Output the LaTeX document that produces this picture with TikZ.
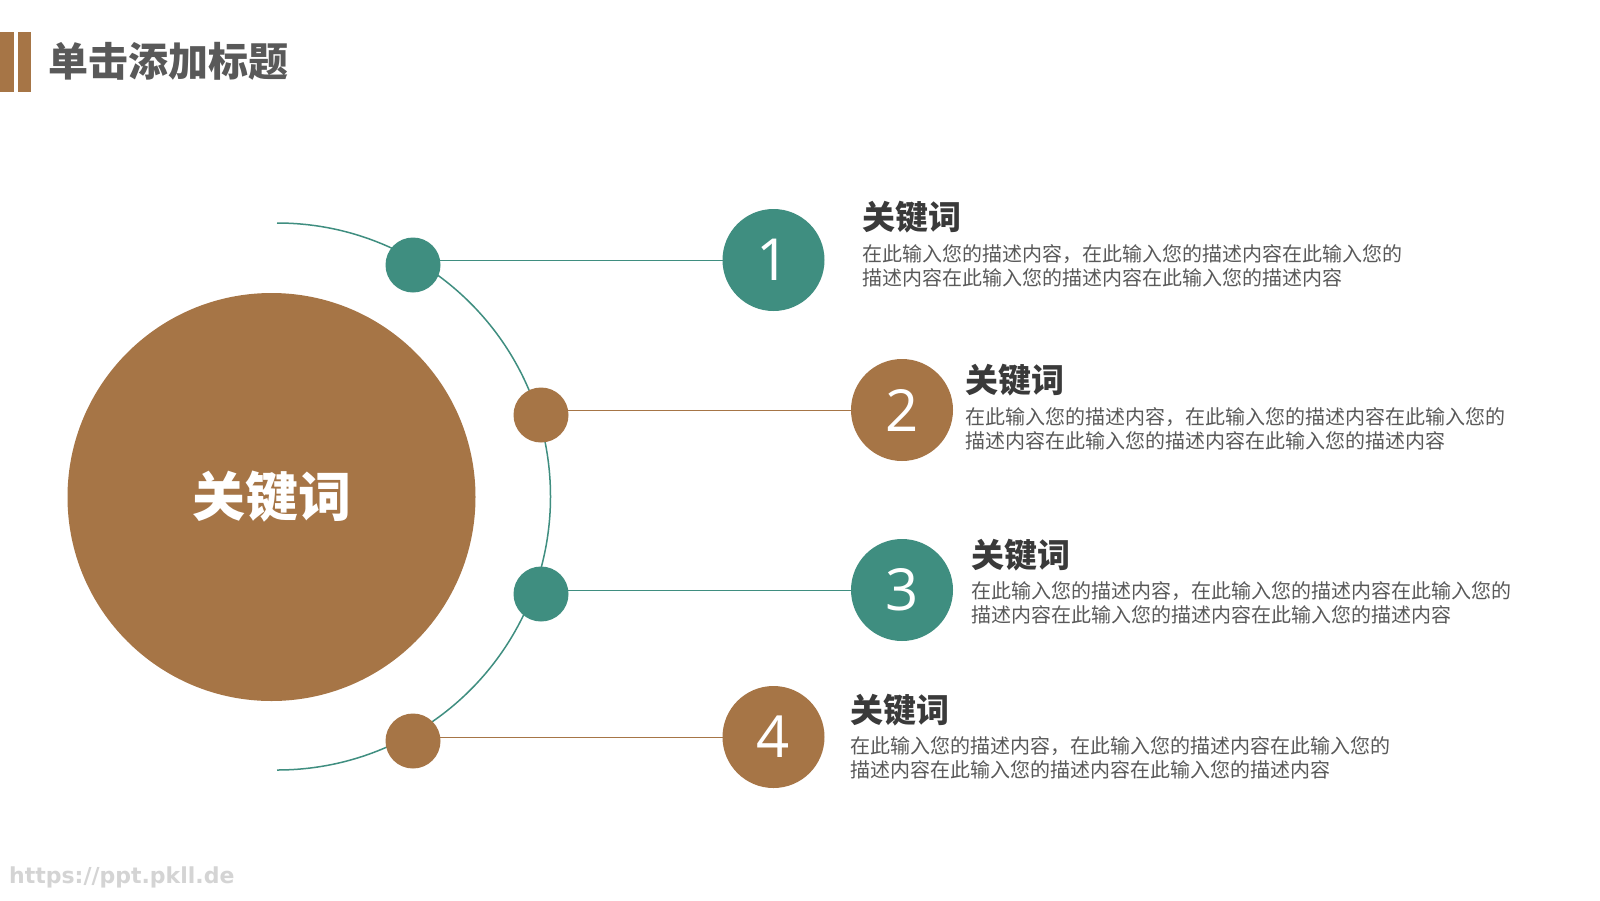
\documentclass[tikz,border=0pt]{standalone}
\usepackage{fontspec}
\newfontfamily\cjk{Noto Sans CJK SC}
\newfontfamily\numfont{Open Sans}
\newfontfamily\wmfont{DejaVu Sans}
\usetikzlibrary{backgrounds}
\definecolor{brownc}{HTML}{A67546}
\definecolor{tealc}{HTML}{3F8E80}
\definecolor{titlegray}{HTML}{595959}
\definecolor{headgray}{HTML}{3A3A3A}
\definecolor{descgray}{HTML}{595959}
\definecolor{wmgray}{HTML}{D4D4D4}
\tikzset{
  dot/.style={circle,inner sep=0pt,minimum size=55pt},
  numc/.style={circle,inner sep=0pt,minimum size=102pt,text=white,font=\numfont\fontsize{58}{58}\selectfont},
  head/.style={anchor=west,inner sep=0pt,text=headgray,font=\cjk\bfseries\fontsize{33}{33}\selectfont},
  desc/.style={anchor=north west,inner sep=0pt,align=left,text=descgray,font=\cjk\fontsize{20}{24.5}\selectfont},
  link/.style={line width=0.9pt},
}
\begin{document}
\begin{tikzpicture}[x=1pt,y=-1pt]
\useasboundingbox (0,0) rectangle (1600,900);
% title bars
\fill[brownc] (0,32) rectangle (14,92);
\fill[brownc] (18,32) rectangle (31,92);
\node[anchor=west,inner sep=0pt,text=titlegray,font=\cjk\bfseries\fontsize{40}{40}\selectfont] (title) at (48,61) {单击添加标题};
% big circle
\node[circle,fill=brownc,inner sep=0pt,minimum size=408pt,text=white,font=\cjk\bfseries\fontsize{53}{53}\selectfont] (center) at (271.5,497) {关键词};
% small dots
\node[dot,fill=tealc] (s1) at (413,265) {};
\node[dot,fill=brownc] (s2) at (541,415) {};
\node[dot,fill=tealc] (s3) at (541,594) {};
\node[dot,fill=brownc] (s4) at (413,741) {};
% numbered circles
\node[numc,fill=tealc] (n1) at (773.5,260) {1};
\node[numc,fill=brownc] (n2) at (902,410) {2};
\node[numc,fill=tealc] (n3) at (902,590) {3};
\node[numc,fill=brownc] (n4) at (773.5,737) {4};
\coordinate (arctop) at (277,223);
\begin{scope}[on background layer]
\fill[white] (0,0) rectangle (1600,900);
\draw[tealc,line width=1.5pt] (arctop) arc[start angle=-90,end angle=90,radius=273.5];
\draw[tealc,link] (s1.center |- n1.center) -- (n1.center);
\draw[brownc,link] (s2.center |- n2.center) -- (n2.center);
\draw[tealc,link] (s3.center |- n3.center) -- (n3.center);
\draw[brownc,link] (s4.center |- n4.center) -- (n4.center);
\end{scope}
% texts
\node[head] (h1) at (862,217) {关键词};
\node[desc] (d1) at (862,244) {在此输入您的描述内容，在此输入您的描述内容在此输入您的\\描述内容在此输入您的描述内容在此输入您的描述内容};
\node[head] (h2) at (965,380) {关键词};
\node[desc] (d2) at (965,407) {在此输入您的描述内容，在此输入您的描述内容在此输入您的\\描述内容在此输入您的描述内容在此输入您的描述内容};
\node[head] (h3) at (971.5,555) {关键词};
\node[desc] (d3) at (971.5,581) {在此输入您的描述内容，在此输入您的描述内容在此输入您的\\描述内容在此输入您的描述内容在此输入您的描述内容};
\node[head] (h4) at (850,710) {关键词};
\node[desc] (d4) at (850,736) {在此输入您的描述内容，在此输入您的描述内容在此输入您的\\描述内容在此输入您的描述内容在此输入您的描述内容};
% watermark
\node[anchor=west,inner sep=0pt,text=wmgray,font=\wmfont\bfseries\fontsize{22}{22}\selectfont] (wm) at (9,877) {https://ppt.pkll.de};
\end{tikzpicture}
\end{document}
